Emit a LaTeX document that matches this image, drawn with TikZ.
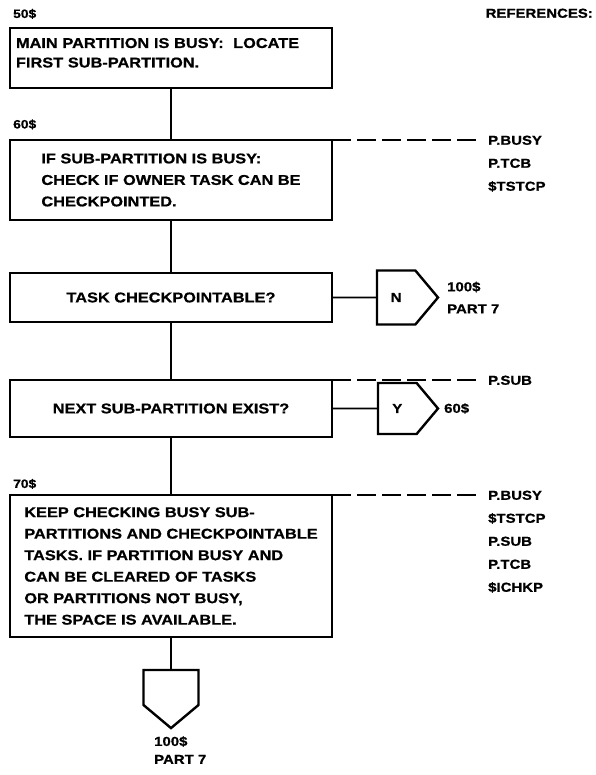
\documentclass[tikz,border=0pt]{standalone}
\usepackage{fontspec}
\setmainfont{Liberation Sans}[FakeStretch=1.15,BoldFeatures={FakeBold=0.8}]
\usetikzlibrary{positioning,shapes.symbols}

\begin{document}
\begin{tikzpicture}[
  x=1pt,y=1pt,
  font=\bfseries,
  blk/.style={draw,line width=2.4pt,minimum width=322pt,align=left,
              inner xsep=6pt,inner ysep=0pt,outer sep=0pt,
              font=\bfseries\fontsize{14.2}{21.5}\selectfont},
  offpage/.style={draw,line width=2.4pt,signal,signal from=nowhere,
                  signal pointer angle=100,inner sep=0pt,outer sep=0pt,
                  font=\bfseries\fontsize{13}{15}\selectfont},
  flow/.style={line width=1.6pt},
  refline/.style={line width=2pt,dash pattern=on 19pt off 6pt,shorten >=6pt},
  steplbl/.style={font=\bfseries\fontsize{12}{14}\selectfont,inner sep=0pt,
                  anchor=south west},
  refname/.style={font=\bfseries\fontsize{13}{15}\selectfont,inner sep=0pt,
                  anchor=west,text height=9.5pt,text depth=0pt},
  exitlbl/.style={font=\bfseries\fontsize{13}{22}\selectfont,inner sep=0pt,
                  align=left},
]
\useasboundingbox (0,0) rectangle (595,-775);

\node[refname,anchor=east] (refs) at (593,-13) {REFERENCES:};

% ---------------------------------------------------------------- locate
\node[blk,minimum height=60pt,text width=310pt,anchor=north west,
      font=\bfseries\fontsize{14.2}{19.5}\selectfont] (b1) at (10,-28)
  {MAIN PARTITION IS BUSY:\ \ LOCATE\\FIRST SUB-PARTITION.\\[-9pt]\mbox{}};
\node[steplbl] (l50) at ([shift={(3,9)}]b1.north west) {50\$};

% ----------------------------------------------------------- check busy
\node[blk,minimum height=80pt,below=52pt of b1] (b2)
  {IF SUB-PARTITION IS BUSY:\\CHECK IF OWNER TASK CAN BE\\CHECKPOINTED.};
\node[steplbl] (l60) at ([shift={(3,10.5)}]b2.north west) {60\$};

\foreach \t [count=\i from 0] in {P.BUSY,P.TCB,\$TSTCP}
  \node[refname] (r2-\i) at ([shift={(156,-23*\i)}]b2.north east) {\t};
\draw[refline] (b2.north east) -- (r2-0);

% ------------------------------------------------------- decisions, exits
\node[blk,minimum height=49pt,below=53pt of b2] (b3) {TASK CHECKPOINTABLE?};
\node[offpage,signal to=east,minimum width=61pt,minimum height=54pt,
      right=45pt of b3] (cn) {N};
\node[exitlbl,right=9pt of cn.east] (xn) {100\$\\PART 7};
\draw[flow] (b3) -- (cn);

\node[blk,minimum height=57pt,below=58pt of b3] (b4) {NEXT SUB-PARTITION EXIST?};
\node[offpage,signal to=east,minimum width=60pt,minimum height=51pt,
      right=46pt of b4] (cy) {Y};
\node[exitlbl,right=6pt of cy.east] (xy) {60\$};
\draw[flow] (b4) -- (cy);

\node[refname] (r4-0) at ([shift={(156,0)}]b4.north east) {P.SUB};
\draw[refline] (b4.north east) -- (r4-0);

% ------------------------------------------------------- keep checking
\node[blk,minimum height=142pt,below=58pt of b4] (b5)
  {KEEP CHECKING BUSY SUB-\\PARTITIONS AND CHECKPOINTABLE\\TASKS. IF PARTITION BUSY AND\\
   CAN BE CLEARED OF TASKS\\OR PARTITIONS NOT BUSY,\\THE SPACE IS AVAILABLE.};
\node[steplbl] (l70) at ([shift={(3,6)}]b5.north west) {70\$};

\foreach \t [count=\i from 0] in {P.BUSY,\$TSTCP,P.SUB,P.TCB,\$ICHKP}
  \node[refname] (r5-\i) at ([shift={(156,-23*\i)}]b5.north east) {\t};
\draw[refline] (b5.north east) -- (r5-0);

% off-page exit below
\node[offpage,signal to=south,minimum width=55pt,minimum height=35pt,
      below=33pt of b5] (cd) {};
\node[exitlbl,font=\bfseries\fontsize{13}{18}\selectfont,below=8pt of cd.south,
      anchor=north west,xshift=-17pt] (xd) {100\$\\PART 7};

\foreach \i/\j in {b1/b2,b2/b3,b3/b4,b4/b5,b5/cd} \draw[flow] (\i) -- (\j);

\end{tikzpicture}
\end{document}
